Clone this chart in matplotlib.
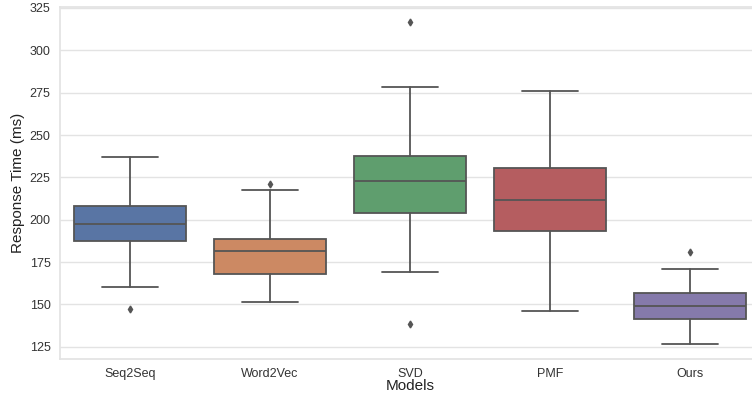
import matplotlib
matplotlib.use("Agg")
import matplotlib.pyplot as plt
import seaborn as sns

sns.set_theme(style="whitegrid")
plt.rcParams["font.family"] = ["Liberation Sans", "DejaVu Sans"]

models = ["Seq2Seq", "Word2Vec", "SVD", "PMF", "Ours"]
whisker_lo = [160.5, 151.2, 169.3, 146.3, 126.9]
q1 = [187.6, 168.2, 204.0, 193.5, 141.2]
median = [197.6, 181.5, 222.6, 211.8, 149.1]
q3 = [208.3, 188.4, 237.9, 230.7, 156.5]
whisker_hi = [237.1, 217.3, 278.1, 276.0, 170.9]
outliers = [[147.5], [221.0], [316.6, 138.7], [], [180.7]]

palette = [sns.desaturate(c, 0.75) for c in sns.color_palette("deep", 5)]
LINE = "#555555"
GRID = "#e3e3e3"

stats = [
    dict(label=m, whislo=lo, q1=a, med=md, q3=b, whishi=hi, fliers=f)
    for m, lo, a, md, b, hi, f in zip(models, whisker_lo, q1, median, q3,
                                      whisker_hi, outliers)
]

fig = plt.figure(figsize=(7.52, 3.95), dpi=100)
ax = fig.add_axes([0.08, 0.092, 0.93, 0.89])

bp = ax.bxp(stats, positions=range(len(models)), widths=0.8,
            patch_artist=True, showfliers=True,
            boxprops=dict(edgecolor=LINE, linewidth=1.3),
            medianprops=dict(color=LINE, linewidth=1.3),
            whiskerprops=dict(color=LINE, linewidth=1.3),
            capprops=dict(color=LINE, linewidth=1.3),
            capwidths=0.4,
            flierprops=dict(marker="d", markersize=3.5, markerfacecolor=LINE,
                            markeredgecolor=LINE))
for patch, c in zip(bp["boxes"], palette):
    patch.set_facecolor(c)

ax.set_xlim(-0.5, 4.5)
ax.set_ylim(118, 325.5)
ax.set_yticks([125, 150, 175, 200, 225, 250, 275, 300, 325])
ax.set_xticks(range(len(models)), models)
ax.tick_params(axis="both", labelsize=9, colors="#333333", pad=1)
ax.grid(axis="x", visible=False)
ax.grid(axis="y", color=GRID, linewidth=1)
for s in ax.spines.values():
    s.set_color(GRID)
ax.set_xlabel("Models", fontsize=11, color="#222222", labelpad=-1)
ax.set_ylabel("Response Time (ms)", fontsize=11, color="#222222", labelpad=3)

fig.savefig("out.png", dpi=100)
